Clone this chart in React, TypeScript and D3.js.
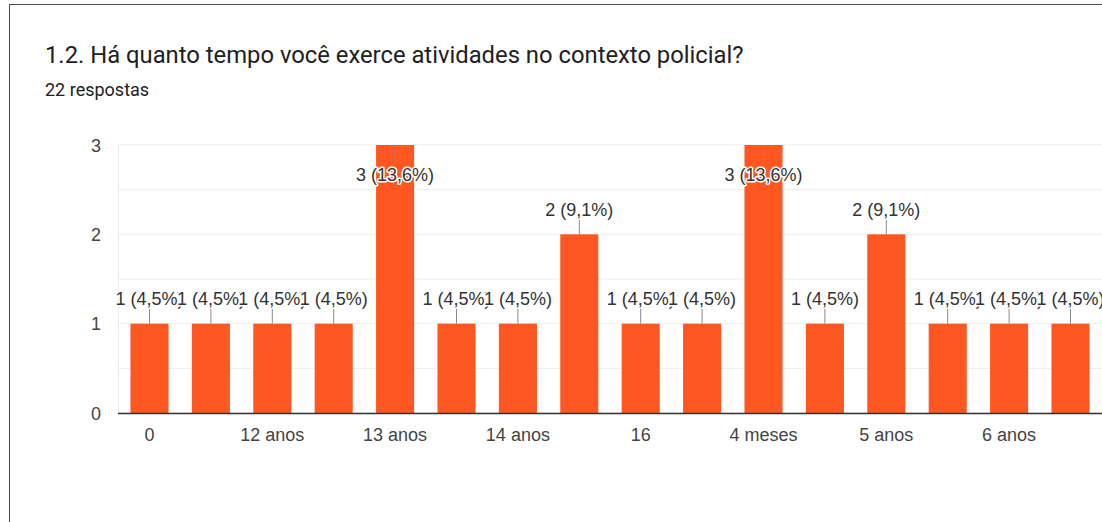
import React from "react";
import * as d3 from "d3";

// categories as sorted by the form (only every second one is labelled on the axis)
const categories = [
  "0", "10 anos", "12 anos", "13", "13 anos", "14", "14 anos", "15 anos",
  "16", "2 anos", "4 meses", "4 anos", "5 anos", "5 meses", "6 anos", "8 anos",
];
const counts = [1, 1, 1, 1, 3, 1, 1, 2, 1, 1, 3, 1, 2, 1, 1, 1];
const yTicks = [0, 1, 2, 3];
const totalAnswers = 22;

const title = "1.2. Há quanto tempo você exerce atividades no contexto policial?";
const subtitle = "22 respostas";

const W = 1102;
const H = 522;
const HEAD_FONT = "Roboto, 'Noto Sans', Arial, sans-serif";
const CHART_FONT = "'Liberation Sans', Arial, sans-serif";

const App = () => {
  const x = d3
    .scaleBand()
    .domain(categories)
    .range([118.8, 1101.2])
    .paddingInner(0.38)
    .paddingOuter(0.19);
  const y = d3.scaleLinear().domain([0, 3]).range([413, 145]);
  const minor = d3.range(0, 3.01, 0.5);
  const pct = (v: number) =>
    d3.format(".1f")((v / totalAnswers) * 100).replace(".", ",");

  return (
    <svg
      width={W}
      height={H}
      style={{ position: "absolute", left: 0, top: 0, background: "#fff" }}
    >
      {/* card border */}
      <rect x={9.5} y={4.5} width={1120} height={560} fill="#fff" stroke="#4a4a4a" strokeWidth={1} />

      <text x={45} y={63} fontSize={23.8} fill="#202124" fontFamily={HEAD_FONT}>{title}</text>
      <text x={45} y={96} fontSize={18} fill="#202124" fontFamily={HEAD_FONT}>{subtitle}</text>

      <g fontFamily={CHART_FONT}>
        {/* grid */}
        {minor.map((t) => (
          <line key={"g" + t} x1={118} x2={W} y1={y(t)} y2={y(t)} stroke="#ececec" strokeWidth={1} />
        ))}
        <line x1={118.5} x2={118.5} y1={145} y2={413} stroke="#ececec" />

        {yTicks.map((t) => (
          <text key={"yt" + t} x={101} y={y(t) + 6.5} textAnchor="end" fontSize={18} fill="#444">
            {t}
          </text>
        ))}

        {/* bars */}
        {categories.map((c, i) => (
          <rect
            key={"b" + c}
            x={x(c)}
            y={y(counts[i])}
            width={x.bandwidth()}
            height={y(0) - y(counts[i])}
            fill="#ff5722"
          />
        ))}

        <line x1={118} x2={W} y1={413.5} y2={413.5} stroke="#333" strokeWidth={1.5} />

        {/* x labels, every second category */}
        {categories.map((c, i) =>
          i % 2 === 0 ? (
            <text
              key={"xl" + c}
              x={(x(c) as number) + x.bandwidth() / 2}
              y={441}
              textAnchor="middle"
              fontSize={18}
              fill="#444"
            >
              {c}
            </text>
          ) : null
        )}

        {/* value labels */}
        {categories.map((c, i) => {
          const v = counts[i];
          const cx = (x(c) as number) + x.bandwidth() / 2;
          const top = y(v);
          const inside = v === 3;
          const lineEnd = inside ? top + 17 : top - 15;
          const ty = inside ? top + 36 : top - 18.5;
          return (
            <g key={"vl" + c}>
              <line x1={cx} x2={cx} y1={top} y2={lineEnd} stroke="#8a8a8a" strokeWidth={1} />
              <text
                x={cx}
                y={ty}
                textAnchor="middle"
                fontSize={18}
                fill="#333"
                stroke="#fff"
                strokeWidth={3}
                strokeLinejoin="round"
                style={{ paintOrder: "stroke" }}
              >
                {`${v} (${pct(v)}%)`}
              </text>
            </g>
          );
        })}
      </g>
    </svg>
  );
};

export default App;
